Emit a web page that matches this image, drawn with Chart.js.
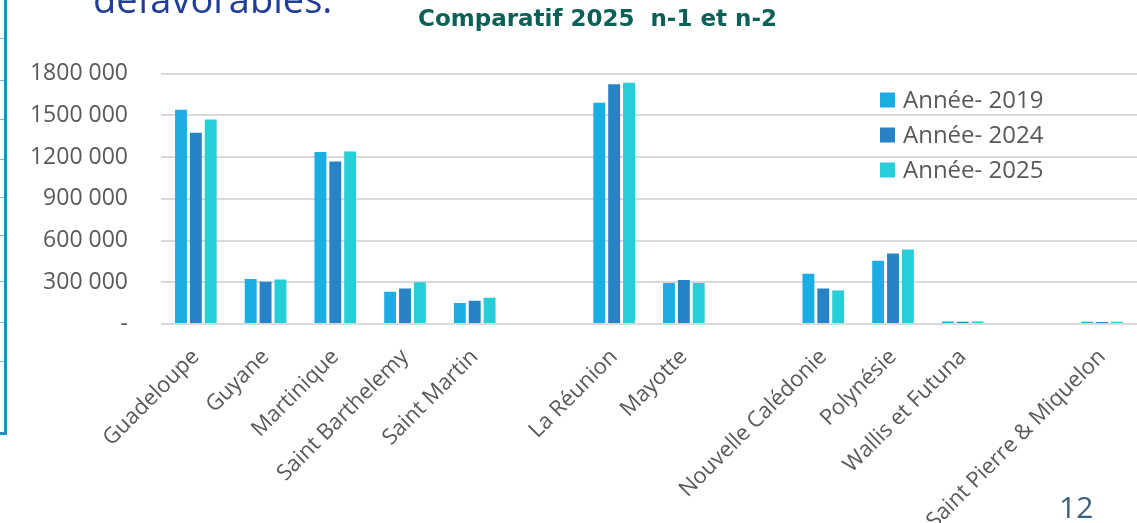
<!DOCTYPE html>
<html>
<head>
<meta charset="utf-8">
<script src="https://cdn.jsdelivr.net/npm/chart.js@4.4.1/dist/chart.umd.min.js"></script>
<style>
  html, body { margin: 0; padding: 0; background: #ffffff; }
  #wrap { position: relative; width: 1137px; height: 523px; }
  canvas { display: block; }
</style>
</head>
<body>
<div id="wrap"><canvas id="c" width="1137" height="523"></canvas></div>
<script>
// ---- Data ----
const categories = [
  "Guadeloupe", "Guyane", "Martinique", "Saint Barthelemy", "Saint Martin", "",
  "La Réunion", "Mayotte", "", "Nouvelle Calédonie", "Polynésie", "Wallis et Futuna", "",
  "Saint Pierre & Miquelon"
];
const seriesNames = ["Année- 2019", "Année- 2024", "Année- 2025"];
const values2019 = [1541000, 324000, 1237000, 232000, 151000, null, 1590000, 295000, null, 362000, 455000, 18000, null, 16000];
const values2024 = [1374000, 304000, 1168000, 256000, 168000, null, 1724000, 316000, null, 256000, 506000, 17000, null, 15000];
const values2025 = [1470000, 319000, 1240000, 300000, 189000, null, 1734000, 295000, null, 240000, 535000, 18000, null, 16000];
const yTicks = [0, 300000, 600000, 900000, 1200000, 1500000, 1800000];
const titleText = "Comparatif 2025  n-1 et n-2";
const slideHeading = "défavorables.";
const pageNumber = "12";

// ---- Styles ----
const colors = ["#1CADE4", "#2683C6", "#27CED7"];
const textGray = "#595959";
const FONT = "'Open Sans', 'DejaVu Sans', sans-serif";

function fmtTick(v) {
  if (v === 0) return "-";
  return String(Math.round(v / 1000)) + " 000";
}

const legendPlugin = {
  id: "insideLegend",
  afterDraw(chart) {
    const ctx = chart.ctx;
    ctx.save();
    ctx.font = "24px " + FONT;
    ctx.textBaseline = "middle";
    ctx.textAlign = "left";
    chart.data.datasets.forEach((ds, i) => {
      const y = 100 + i * 35;
      ctx.fillStyle = ds.backgroundColor;
      ctx.fillRect(880, y - 7.5, 15, 15);
      ctx.fillStyle = textGray;
      ctx.fillText(ds.label, 903, y + 1);
    });
    ctx.restore();
  }
};

const titleShiftPlugin = {
  id: "titleShift",
  afterLayout(chart) {
    if (chart.titleBlock) {
      chart.titleBlock.left = 58;
    }
  }
};

const decorPlugin = {
  id: "slideDecor",
  beforeDraw(chart) {
    const ctx = chart.ctx;
    ctx.save();
    // left frame line
    ctx.fillStyle = "#1F8EC0";
    ctx.fillRect(4, 0, 3, 435);
    ctx.fillRect(0, 432, 7, 3);
    ctx.fillStyle = "#7DB8D6";
    [38, 80, 119, 159, 197, 235, 281, 322, 361].forEach(y => ctx.fillRect(0, y, 4, 1));
    // cut-off heading
    ctx.fillStyle = "#1F3D99";
    ctx.font = "38px " + FONT;
    ctx.textBaseline = "alphabetic";
    ctx.textAlign = "left";
    ctx.fillText(slideHeading, 93, 13);
    // page number
    ctx.fillStyle = "#3C5F7B";
    ctx.font = "30px " + FONT;
    ctx.fillText(pageNumber, 1059, 518);
    ctx.restore();
  }
};

new Chart(document.getElementById("c"), {
  type: "bar",
  data: {
    labels: categories,
    datasets: [
      { label: seriesNames[0], data: values2019, backgroundColor: colors[0] },
      { label: seriesNames[1], data: values2024, backgroundColor: colors[1] },
      { label: seriesNames[2], data: values2025, backgroundColor: colors[2] }
    ]
  },
  options: {
    responsive: false,
    animation: false,
    devicePixelRatio: 1,
    layout: { padding: { left: 0, right: 0, top: 0, bottom: 0 } },
    datasets: { bar: { categoryPercentage: 0.64, barPercentage: 0.8 } },
    plugins: {
      legend: { display: false },
      tooltip: { enabled: false },
      title: {
        display: true,
        text: titleText,
        color: "#0B6157",
        font: { family: "'DejaVu Sans', sans-serif", size: 23, weight: "bold" },
        padding: { top: 6, bottom: 40 }
      }
    },
    scales: {
      x: {
        grid: { display: false },
        border: { display: false },
        ticks: {
          color: textGray,
          font: { family: FONT, size: 22 },
          maxRotation: 45,
          minRotation: 45,
          autoSkip: false,
          padding: 12
        },
        afterFit(scale) { scale.height = 199; }
      },
      y: {
        min: 0,
        max: 1800000,
        afterBuildTicks(scale) { scale.ticks = yTicks.map(v => ({ value: v })); },
        grid: { color: "#D9D9D9", lineWidth: 2, drawTicks: false },
        border: { display: false },
        ticks: {
          color: textGray,
          font: { family: FONT, size: 23 },
          padding: 33,
          callback: (v) => fmtTick(v)
        },
        afterFit(scale) { scale.width = 161; }
      }
    }
  },
  plugins: [decorPlugin, legendPlugin, titleShiftPlugin]
});
</script>
</body>
</html>
